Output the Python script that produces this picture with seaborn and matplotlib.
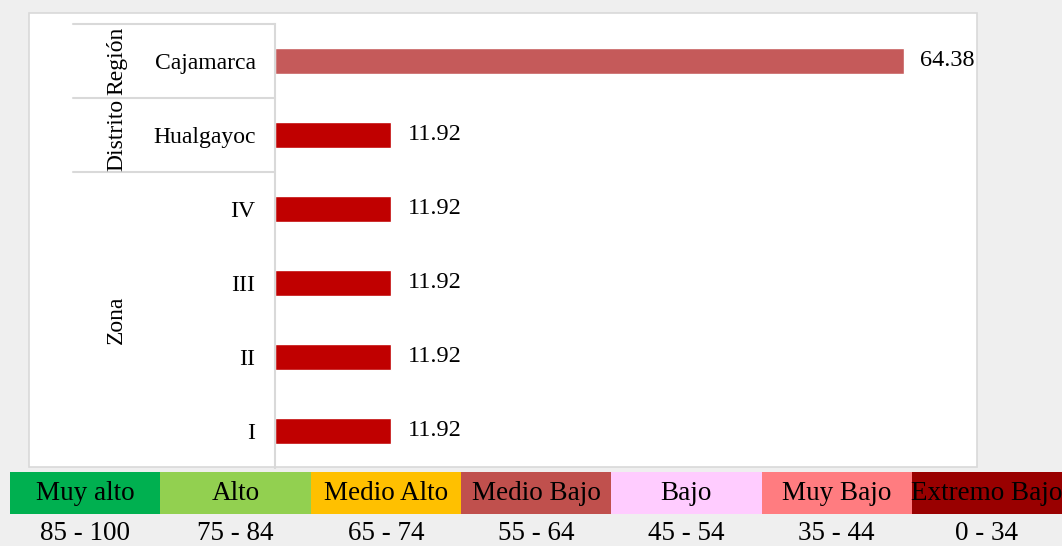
import matplotlib.pyplot as plt
import seaborn as sns
import pandas as pd
from matplotlib.patches import Rectangle

# data
categories = ["Cajamarca", "Hualgayoc", "IV", "III", "II", "I"]
values = [64.38, 11.92, 11.92, 11.92, 11.92, 11.92]
bar_colors = ["#C55A5A", "#C00000", "#C00000", "#C00000", "#C00000", "#C00000"]
groups = ["Región", "Distrito", "Zona"]
group_pos = [0, 1, 3.5]
levels = ["Muy alto", "Alto", "Medio Alto", "Medio Bajo", "Bajo", "Muy Bajo", "Extremo Bajo"]
level_ranges = ["85 - 100", "75 - 84", "65 - 74", "55 - 64", "45 - 54", "35 - 44", "0 - 34"]
level_colors = ["#00B050", "#92D050", "#FFC000", "#C0504D", "#FFCCFF", "#FF7C80", "#990000"]


def plot():
    sns.set_style("white")
    plt.rcParams['font.family'] = ['Liberation Serif', 'DejaVu Serif']
    plt.rcParams['text.color'] = 'black'
    plt.rcParams['ytick.color'] = 'black'

    W, H = 1062, 546
    fig = plt.figure(figsize=(W / 100, H / 100), dpi=100)
    fig.patch.set_facecolor("#EFEFEF")

    # white panel behind the chart
    fig.patches.append(Rectangle((29 / W, 1 - 467 / H), (977 - 29) / W, (467 - 13) / H,
                                 transform=fig.transFigure, facecolor="white",
                                 edgecolor="#D9D9D9", lw=1.2, zorder=-5))

    ax = fig.add_axes([275 / W, 1 - 468 / H, (975 - 275) / W, (468 - 24) / H])
    ax.set_facecolor("none")
    ax.set_zorder(2)

    df = pd.DataFrame({"cat": categories, "val": values})
    sns.barplot(data=df, x="val", y="cat", hue="cat", palette=bar_colors, legend=False,
                width=0.36, orient="h", ax=ax, saturation=1)
    for c in ax.containers:
        ax.bar_label(c, fmt="%.2f", padding=12, fontsize=17.5, color="black")

    ax.set_xlim(0, 71.7)
    ax.set_ylim(len(categories) - 0.5, -0.5)
    ax.set_xlabel("")
    ax.set_ylabel("")
    ax.set_xticks([])
    for s in ["top", "right", "bottom"]:
        ax.spines[s].set_visible(False)
    ax.spines["left"].set_color("#D9D9D9")
    ax.spines["left"].set_linewidth(1.5)
    ax.tick_params(axis="y", length=0, pad=14, labelsize=17, labelcolor="black")

    # group separators and labels
    trans = ax.get_yaxis_transform()
    for yb in [-0.5, 0.5, 1.5]:
        ax.plot([-0.289, 0], [yb, yb], transform=trans, color="#D9D9D9", lw=1.5, clip_on=False)
    for g, yp in zip(groups, group_pos):
        ax.text(-0.226, yp, g, transform=trans, rotation=90, ha="center", va="center",
                fontsize=17, color="black")

    # legend table
    x0, cw = 10, 150.3
    for i, (lab, rng, col) in enumerate(zip(levels, level_ranges, level_colors)):
        fig.patches.append(Rectangle(((x0 + i * cw) / W, 32 / H), cw / W, 42 / H,
                                     transform=fig.transFigure, facecolor=col, edgecolor="none"))
        xc = (x0 + (i + 0.5) * cw) / W
        fig.text(xc, 53 / H, lab, ha="center", va="center", fontsize=19.5, color="black")
        fig.text(xc, 13 / H, rng, ha="center", va="center", fontsize=19.5, color="black")

    plt.savefig("out.png", dpi=100, facecolor=fig.get_facecolor())
    plt.clf()


plot()
